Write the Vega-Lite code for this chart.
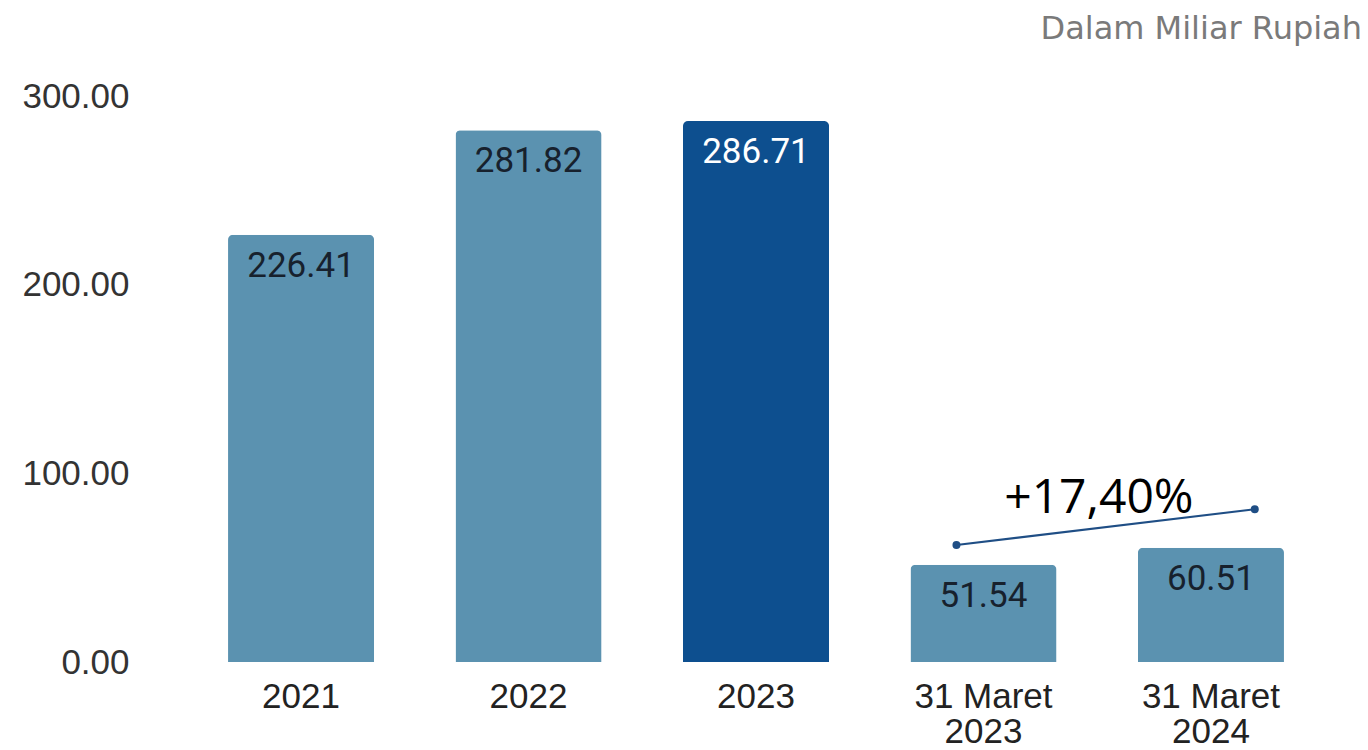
{
  "$schema": "https://vega.github.io/schema/vega-lite/v6.json",
  "width": 1212,
  "height": 566,
  "autosize": {"type": "none"},
  "padding": {"left": 150, "top": 96, "right": 6, "bottom": 88},
  "background": "white",
  "title": {
    "text": "Dalam Miliar Rupiah",
    "anchor": "end",
    "frame": "group",
    "orient": "top",
    "baseline": "alphabetic",
    "offset": 8,
    "font": "DejaVu Sans",
    "fontSize": 32,
    "fontWeight": "normal",
    "color": "#7a7a7a"
  },
  "config": {
    "view": {"stroke": null},
    "axis": {"grid": false, "domain": false, "ticks": false, "font": "Liberation Sans"}
  },
  "layer": [
    {
      "data": {"values": [
        {"cat": "2021", "v": 226.41},
        {"cat": "2022", "v": 281.82},
        {"cat": "2023", "v": 286.71},
        {"cat": "31 Maret 2023", "v": 51.54},
        {"cat": "31 Maret 2024", "v": 60.51}
      ]},
      "layer": [
        {
          "mark": {"type": "bar", "cornerRadiusTopLeft": 5, "cornerRadiusTopRight": 5},
          "encoding": {
            "x": {"field": "cat", "type": "nominal", "sort": null, "title": null,
              "scale": {"paddingInner": 0.358, "paddingOuter": 0.343},
              "axis": {"labelAngle": 0, "labelFontSize": 35, "labelColor": "#222222", "labelPadding": 17, "labelLineHeight": 35, "labelFont": "Liberation Sans",
                "labelExpr": "indexof(datum.label, 'Maret') > 0 ? [substring(datum.label, 0, 8), substring(datum.label, 9)] : datum.label"}},
            "y": {"field": "v", "type": "quantitative", "title": null,
              "scale": {"domain": [0, 300], "nice": false},
              "axis": {"values": [0, 100, 200, 300], "format": ".2f", "labelFontSize": 35, "labelColor": "#333333", "labelPadding": 21, "labelFont": "Liberation Sans"}},
            "color": {"condition": {"test": "datum.cat == '2023'", "value": "#0d4f8f"}, "value": "#5b92b0"}
          }
        },
        {
          "mark": {"type": "text", "baseline": "alphabetic", "dy": 42, "font": "Roboto", "fontSize": 35},
          "encoding": {
            "x": {"field": "cat", "type": "nominal", "sort": null},
            "y": {"field": "v", "type": "quantitative"},
            "text": {"field": "v", "type": "quantitative", "format": ".2f"},
            "color": {"condition": {"test": "datum.cat == '2023'", "value": "#ffffff"}, "value": "#17212d"}
          }
        }
      ]
    },
    {
      "data": {"values": [
        {"a": "31 Maret 2023", "b": "31 Maret 2024", "ya": 62, "yb": 81, "yt": 79, "label": "+17,40%"}
      ]},
      "layer": [
        {
          "mark": {"type": "rule", "color": "#1f4e85", "strokeWidth": 2},
          "encoding": {
            "x": {"field": "a", "type": "nominal", "bandPosition": 0.315},
            "x2": {"field": "b", "bandPosition": 0.8},
            "y": {"field": "ya", "type": "quantitative"},
            "y2": {"field": "yb"}
          }
        },
        {
          "mark": {"type": "point", "filled": true, "size": 64, "color": "#1f4e85", "opacity": 1},
          "encoding": {
            "x": {"field": "a", "type": "nominal", "bandPosition": 0.315},
            "y": {"field": "ya", "type": "quantitative"}
          }
        },
        {
          "mark": {"type": "point", "filled": true, "size": 64, "color": "#1f4e85", "opacity": 1},
          "encoding": {
            "x": {"field": "b", "type": "nominal", "bandPosition": 0.8},
            "y": {"field": "yb", "type": "quantitative"}
          }
        },
        {
          "mark": {"type": "text", "baseline": "alphabetic", "align": "center", "font": "Open Sans", "fontSize": 48, "color": "#000000"},
          "encoding": {
            "x": {"field": "a", "type": "nominal", "bandPosition": 1.29},
            "y": {"field": "yt", "type": "quantitative"},
            "text": {"field": "label"}
          }
        }
      ]
    }
  ]
}
